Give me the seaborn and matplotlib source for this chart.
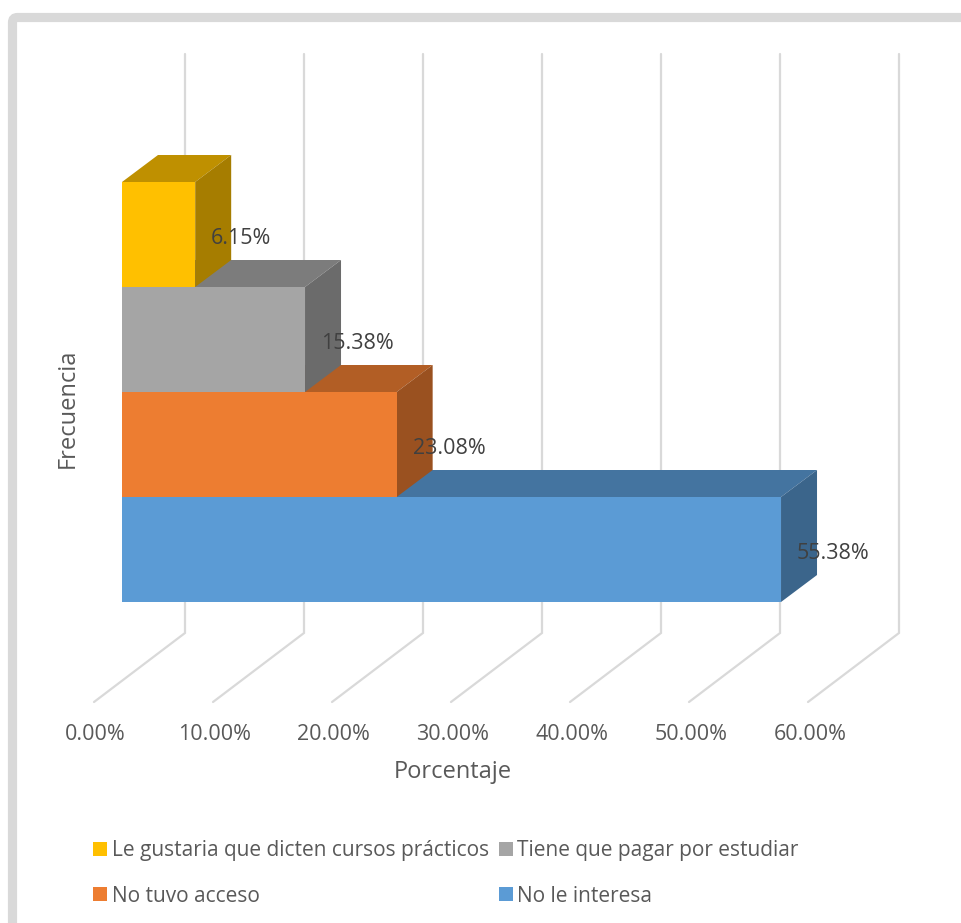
import matplotlib
matplotlib.use("Agg")
import matplotlib.pyplot as plt
from matplotlib.patches import FancyBboxPatch
from matplotlib.transforms import IdentityTransform
import pandas as pd
import seaborn as sns

categories = ["Le gustaria que dicten cursos prácticos", "Tiene que pagar por estudiar",
              "No tuvo acceso", "No le interesa"]
percentages = [6.15, 15.38, 23.08, 55.38]
face_colors = ["#FFC000", "#A5A5A5", "#ED7D31", "#5B9BD5"]
top_colors = ["#BF9000", "#7C7C7C", "#B25E25", "#4474A0"]
side_colors = ["#A67D00", "#6B6B6B", "#9A5120", "#3B658B"]
x_ticks = [0, 10, 20, 30, 40, 50, 60]
x_tick_labels = ["0.00%", "10.00%", "20.00%", "30.00%", "40.00%", "50.00%", "60.00%"]

W, H = 962, 923
sns.set_theme(style="white")
plt.rcParams["font.family"] = ["Open Sans", "DejaVu Sans"]
FS = 15.5

fig = plt.figure(figsize=(W / 100, H / 100), dpi=100, facecolor="white")


def rect(x0, y0, x1, y1):
    return [x0 / W, 1 - y1 / H, (x1 - x0) / W, (y1 - y0) / H]


# outer chart frame (only its left and top edges fall inside the picture)
fig.add_artist(FancyBboxPatch((12.5, -20), W + 20, H + 20 - 17.5,
                              boxstyle="round,pad=0,rounding_size=5",
                              transform=IdentityTransform(), fc="none",
                              ec="#D9D9D9", lw=6.6))

# front plane of the bars
ax = fig.add_axes(rect(122, 182, 836, 602))
df = pd.DataFrame({"Frecuencia": categories, "Porcentaje": percentages})
sns.barplot(data=df, x="Porcentaje", y="Frecuencia", hue="Frecuencia", order=categories,
            hue_order=categories, palette=dict(zip(categories, face_colors)), dodge=False,
            width=1, saturation=1, linewidth=0, ax=ax, zorder=10, legend=True)
ax.set_xlim(0, 60)
ax.set_ylim(3.5, -0.5)
ax.patch.set_alpha(0)
for s in ax.spines.values():
    s.set_visible(False)
ax.set_xticks([])
ax.set_yticks([])
ax.set_xlabel("")

UX = 714 / 60      # pixels per percent
UY = 105           # pixels per category
DX, DY = 36 / UX, -27 / UY          # bar depth
BACK = 63 / UX                      # back wall shift
FLOOR = -28 / UX                    # front edge of floor shift
Y_TOP = 3.5 - (602 - 54) / UY
Y_WALL = 3.5 + (633 - 602) / UY
Y_FLOOR = 3.5 + (702 - 602) / UY

for v in x_ticks:
    ax.plot([v + BACK, v + BACK, v + FLOOR], [Y_TOP, Y_WALL, Y_FLOOR], color="#D9D9D9", lw=1.6,
            clip_on=False, zorder=1, solid_joinstyle="miter")

for i, v in enumerate(percentages):
    y0, y1 = i - 0.5, i + 0.5
    z = 8 - i
    ax.fill([0, v, v + DX, DX], [y0, y0, y0 + DY, y0 + DY], color=top_colors[i], lw=0,
            clip_on=False, zorder=z)
    ax.fill([v, v + DX, v + DX, v], [y0, y0 + DY, y1 + DY, y1], color=side_colors[i], lw=0,
            clip_on=False, zorder=z)
    ax.annotate(f"{v:.2f}%", (v, i), xytext=(16, -4), textcoords="offset pixels", ha="left",
                va="center", fontsize=FS, color="#404040", zorder=20, annotation_clip=False)

ax.yaxis.label.set_size(17)
ax.yaxis.label.set_color("#595959")
ax.set_ylabel("Frecuencia")
ax.yaxis.set_label_coords((80 - 122) / 714, 1 - (408 - 182) / 420)

# legend
handles, labels = ax.get_legend_handles_labels()
ax.get_legend().remove()
order = [0, 2, 1, 3]
fig.legend([handles[i] for i in order], [labels[i] for i in order], ncol=2, frameon=False,
           loc="upper left", bbox_to_anchor=(89 / W, 1 - 836 / H), fontsize=15,
           labelcolor="#595959", handlelength=0.68, handleheight=0.68, handletextpad=0.2,
           columnspacing=0.48, labelspacing=1.17, borderpad=0.2, borderaxespad=0)

# floor axis carrying the tick labels and axis title
ax_floor = fig.add_axes(rect(95, 702, 810, 703))
ax_floor.set_xlim(0, 60)
ax_floor.set_ylim(0, 1)
ax_floor.patch.set_alpha(0)
for s in ax_floor.spines.values():
    s.set_visible(False)
ax_floor.set_yticks([])
ax_floor.set_xticks(x_ticks)
ax_floor.set_xticklabels(x_tick_labels, fontsize=FS, color="#595959")
ax_floor.tick_params(axis="x", length=0, pad=15)
ax_floor.set_xlabel("Porcentaje", fontsize=17, color="#595959", labelpad=11)

fig.savefig("out.png", dpi=100, facecolor="white")
